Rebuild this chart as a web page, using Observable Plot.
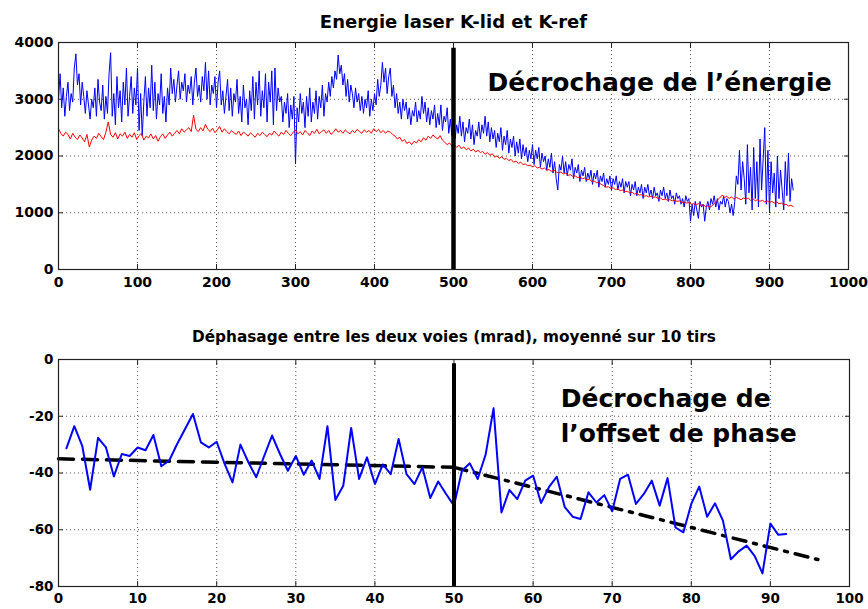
<!DOCTYPE html>
<html><head><meta charset="utf-8">
<script src="https://cdn.jsdelivr.net/npm/d3@7"></script>
<script src="https://cdn.jsdelivr.net/npm/@observablehq/plot@0.6"></script>
<style>
body{margin:0;background:#fff;}
#c{width:868px;height:609px;overflow:hidden;}
svg{display:block;}
</style>
</head><body><div id="c"></div>
<script>
// ---------- Top panel data ----------
const topTitle = "Energie laser K-lid et K-ref";
const topNote = "Décrochage de l’énergie";
const topXTicks = [0,100,200,300,400,500,600,700,800,900,1000];
const topYTicks = [0,1000,2000,3000,4000];
const klidStep = 2; // shot index spacing of K-lid samples
const klidValues = [
 3000,3450,2850,3200,2700,3050,3300,2800,3100,2950,
 3550,3800,3250,3450,2900,3300,3050,2750,3150,2900,
 2650,3000,2850,3200,2700,3350,2950,2800,3250,2650,
 3050,2750,3450,3820,2700,3100,2550,3400,2850,3150,
 2600,3300,2900,3550,2700,3050,3400,2750,3200,2900,
 3550,2450,3100,2350,2950,3400,2700,3200,2850,3600,
 2800,3300,2650,3100,2900,3450,2750,3050,2600,3200,
 2900,3550,3100,3350,2950,3250,3500,3000,3300,3150,
 3450,2950,3250,3100,3400,2900,3300,3550,3050,3250,
 2950,3400,3150,3650,3000,3500,2900,3250,3100,3400,
 2850,3300,3500,2900,3150,2750,3050,3350,2800,3200,
 2700,3100,2950,3350,2750,3050,2600,3250,2850,3000,
 2550,3150,2800,3400,2650,3300,2900,3500,2700,3150,
 2850,3450,2600,3300,2950,3500,2550,3550,2800,3200,
 2950,3050,2600,2950,2750,3100,2500,2900,2650,3050,
 1860,2850,2600,3100,2750,2950,2500,3050,2700,3200,
 2600,2950,2750,3150,2650,3050,2850,3250,2700,3100,
 2950,3300,3050,3400,3200,3500,3350,3780,3450,3600,
 3250,3450,3050,3350,2950,3250,3100,2850,3200,2950,
 3100,2800,3050,2750,3000,2850,3150,2700,3000,2800,
 3100,2900,3350,3050,3250,3650,3300,3550,3100,3400,
 3550,3050,3250,2850,3100,2750,2950,2650,3000,2800,
 2950,2650,2850,2550,2800,2700,2950,2600,2800,2650,
 3050,2750,2950,2600,2850,2550,2800,2650,2900,2500,
 2750,2550,2900,2450,2700,2600,2850,2400,2650,2350,
 2600,2300,2550,2400,2700,2350,2600,2250,2500,2400,
 2650,2300,2550,2200,2450,2350,2600,2300,2550,2400,
 2700,2350,2600,2250,2500,2300,2450,2150,2400,2250,
 2500,2100,2350,2200,2450,2050,2300,2150,2350,2000,
 2250,2050,2300,1950,2200,2000,2150,1900,2100,1950,
 2200,1850,2100,1950,2150,1800,2050,1900,2000,1750,
 1950,1800,2050,1700,1900,1600,1400,1850,1750,2000,
 1700,1900,1650,1850,1750,1950,1600,1800,1700,1850,
 1550,1750,1650,1800,1550,1700,1600,1750,1500,1700,
 1600,1750,1450,1650,1550,1700,1450,1600,1500,1650,
 1400,1600,1500,1650,1400,1550,1450,1600,1350,1550,
 1450,1550,1300,1500,1400,1550,1300,1450,1350,1500,
 1250,1450,1350,1500,1300,1400,1250,1450,1300,1350,
 1200,1400,1300,1450,1250,1350,1200,1400,1250,1300,
 1150,1350,1250,1300,1150,1250,1100,1300,1200,1250,
 850,1150,950,1200,1050,900,1200,1100,1150,850,
 1100,1200,1050,1250,1150,1300,1100,1250,1050,1200,
 1150,1300,1100,1250,1200,1000,1150,950,1200,1650,
 1500,2100,1400,1900,1600,1150,2200,1350,1800,1050,
 2150,1250,1900,1100,2300,1400,1950,2500,1150,2100,
 1000,1900,1350,1700,1100,2000,1250,1750,1400,1050,
 1900,1300,2050,1200,1600,1400
];
const krefStep = 3; // shot index spacing of K-ref samples
const krefValues = [
 2480,2400,2350,2420,2380,2300,2400,2330,2290,2370,
 2320,2250,2380,2160,2280,2350,2310,2400,2340,2290,
 2420,2600,2380,2330,2410,2300,2390,2350,2420,2310,
 2380,2330,2410,2290,2360,2400,2280,2350,2320,2390,
 2300,2360,2260,2340,2390,2310,2370,2420,2350,2400,
 2450,2390,2480,2420,2460,2500,2430,2720,2470,2430,
 2500,2440,2560,2470,2430,2490,2410,2460,2520,2420,
 2480,2430,2390,2450,2410,2380,2440,2360,2420,2390,
 2350,2410,2370,2330,2400,2360,2420,2380,2340,2400,
 2370,2440,2390,2350,2420,2380,2450,2400,2360,2420,
 2460,2390,2430,2370,2450,2410,2360,2440,2400,2470,
 2390,2430,2460,2400,2450,2380,2420,2480,2420,2450,
 2400,2460,2420,2390,2450,2410,2470,2430,2400,2460,
 2420,2450,2400,2480,2430,2470,2410,2450,2400,2440,
 2420,2380,2350,2300,2330,2260,2290,2220,2250,2200,
 2260,2230,2290,2250,2320,2280,2350,2310,2370,2330,
 2300,2360,2280,2240,2200,2230,2180,2200,2150,2190,
 2130,2160,2110,2140,2090,2120,2070,2100,2060,2080,
 2030,2060,2010,2040,1980,2000,1960,1990,1940,1960,
 1920,1940,1890,1910,1870,1890,1850,1860,1830,1840,
 1810,1830,1790,1800,1770,1790,1750,1760,1730,1750,
 1720,1700,1720,1680,1700,1660,1670,1640,1650,1620,
 1630,1600,1610,1580,1590,1550,1560,1530,1530,1500,
 1480,1450,1460,1430,1440,1410,1420,1390,1400,1370,
 1380,1350,1360,1330,1340,1310,1320,1290,1300,1280,
 1290,1270,1280,1250,1260,1230,1240,1220,1230,1210,
 1220,1200,1210,1180,1190,1170,1180,1150,1160,1140,
 1160,1130,1140,1110,1120,1100,1130,1180,1220,1260,
 1310,1270,1290,1250,1280,1240,1270,1250,1230,1260,
 1240,1260,1220,1250,1210,1230,1200,1220,1190,1210,
 1180,1200,1170,1190,1160,1170,1140,1150,1120,1130,
 1110
];
const topMarkerX = [500];
const topMarkerSpan = [0, 3900];
const topNotePos = [543, 3290];

// ---------- Bottom panel data ----------
const botTitle = "Déphasage entre les deux voies (mrad), moyenné sur 10 tirs";
const botNote = ["Décrochage de", "l’offset de phase"];
const botXTicks = [0,10,20,30,40,50,60,70,80,90,100];
const botYTicks = [-80,-60,-40,-20,0];
const phaseValues = [
 -31.3,-23.5,-30.4,-45.9,-27.6,-31.0,-41.2,-33.3,-34.0,-31.0,
 -32.0,-26.6,-37.6,-35.6,-29.8,-24.5,-19.2,-29.2,-31.0,-29.0,
 -36.8,-43.3,-30.0,-36.2,-41.5,-34.0,-26.8,-33.3,-39.2,-34.0,
 -40.6,-35.6,-42.1,-23.5,-49.5,-44.5,-24.1,-42.1,-34.5,-43.9,
 -37.0,-40.4,-28.0,-40.4,-43.9,-38.0,-48.8,-43.0,-47.4,-51.5,
 -39.2,-36.6,-42.1,-33.5,-17.2,-53.9,-46.0,-49.2,-42.7,-40.9,
 -50.6,-45.0,-41.3,-52.0,-55.4,-56.2,-46.8,-50.4,-47.8,-53.5,
 -42.1,-40.6,-50.9,-47.4,-42.7,-51.5,-41.8,-59.2,-60.9,-50.9,
 -44.8,-55.4,-50.7,-56.8,-70.4,-67.6,-65.6,-69.2,-75.4,-57.8,
 -61.8,-61.5
];
const trendBeforeX = [0, 50];
const trendBeforeY = [-35, -38];
const trendAfterX = [50, 96];
const trendAfterY = [-38, -70.5];
const botMarkerX = [50];
const botMarkerSpan = [-80, -1.5];
const botNoteX = 63.5;
const botNoteY = [-13.8, -26.3];

// ---------- build tables ----------
const klid = klidValues.map((v, i) => ({x: i * klidStep, y: v}));
const kref = krefValues.map((v, i) => ({x: i * krefStep, y: v}));
const phase = phaseValues.map((v, i) => ({x: i + 1, y: v}));
const trendBefore = trendBeforeX.map((x, i) => ({x, y: trendBeforeY[i]}));
const trendAfter = trendAfterX.map((x, i) => ({x, y: trendAfterY[i]}));

const FONT = "'DejaVu Sans', Arial, sans-serif";
const fmt = d => String(d);
const gridStyle = {stroke: "#555", strokeOpacity: 1, strokeWidth: 1, strokeDasharray: "1,3"};

function innerTicks(xt, yt) {
  return [
    Plot.axisX({ticks: xt, anchor: "bottom", tickSize: -5, fill: "none", label: null, stroke: "#222"}),
    Plot.axisX({ticks: xt, anchor: "top", tickSize: -5, fill: "none", label: null, stroke: "#222"}),
    Plot.axisY({ticks: yt, anchor: "left", tickSize: -5, fill: "none", label: null, stroke: "#222"}),
    Plot.axisY({ticks: yt, anchor: "right", tickSize: -5, fill: "none", label: null, stroke: "#222"})
  ];
}

const topPlot = Plot.plot({
  width: 868, height: 300,
  marginTop: 42, marginBottom: 31, marginLeft: 58, marginRight: 20,
  x: {domain: [0, 1000]},
  y: {domain: [0, 4000]},
  style: {fontFamily: FONT, fontWeight: "bold", fontSize: "14px", color: "black", background: "white", overflow: "visible"},
  marks: [
    Plot.gridX(topXTicks.slice(1, -1), gridStyle),
    Plot.gridY(topYTicks.slice(1, -1), gridStyle),
    ...innerTicks(topXTicks, topYTicks),
    Plot.axisX({ticks: topXTicks, tickFormat: fmt, tickSize: 0, tickPadding: 8, label: null}),
    Plot.axisY({ticks: topYTicks, tickFormat: fmt, tickSize: 0, tickPadding: 5, label: null}),
    Plot.line(klid, {x: "x", y: "y", stroke: "#0000ff", strokeWidth: 1}),
    Plot.line(kref, {x: "x", y: "y", stroke: "#ff0000", strokeWidth: 1}),
    Plot.ruleX(topMarkerX, {y1: topMarkerSpan[0], y2: topMarkerSpan[1], stroke: "black", strokeWidth: 4.5}),
    Plot.frame({stroke: "#222", strokeWidth: 1.2}),
    Plot.text([topTitle], {frameAnchor: "top", dy: -27, fontSize: 18, fontWeight: "bold", fill: "black"}),
    Plot.text([topNote], {x: () => topNotePos[0], y: () => topNotePos[1], textAnchor: "start", fontSize: 25, fontWeight: "bold", fill: "black"})
  ]
});

const botPlot = Plot.plot({
  width: 868, height: 309,
  marginTop: 59, marginBottom: 23, marginLeft: 58, marginRight: 19,
  x: {domain: [0, 100]},
  y: {domain: [-80, 0]},
  style: {fontFamily: FONT, fontWeight: "bold", fontSize: "13.5px", color: "black", background: "white", overflow: "visible"},
  marks: [
    Plot.gridX(botXTicks.slice(1, -1), gridStyle),
    Plot.gridY(botYTicks.slice(1, -1), gridStyle),
    ...innerTicks(botXTicks, botYTicks),
    Plot.axisX({ticks: botXTicks, tickFormat: fmt, tickSize: 0, tickPadding: 7, label: null}),
    Plot.axisY({ticks: botYTicks, tickFormat: fmt, tickSize: 0, tickPadding: 5, label: null}),
    Plot.line(trendBefore, {x: "x", y: "y", stroke: "black", strokeWidth: 3.5, strokeDasharray: "15,9"}),
    Plot.line(trendAfter, {x: "x", y: "y", stroke: "black", strokeWidth: 3.5, strokeDasharray: "13,8,3,8"}),
    Plot.line(phase, {x: "x", y: "y", stroke: "#0000ff", strokeWidth: 2}),
    Plot.ruleX(botMarkerX, {y1: botMarkerSpan[0], y2: botMarkerSpan[1], stroke: "black", strokeWidth: 4}),
    Plot.frame({stroke: "#222", strokeWidth: 1.2}),
    Plot.text([botTitle], {frameAnchor: "top", dy: -28, fontSize: 15.3, fontWeight: "bold", fill: "black"}),
    Plot.text(botNote, {x: () => botNoteX, y: (d, i) => botNoteY[i], textAnchor: "start", fontSize: 25, fontWeight: "bold", fill: "black"})
  ]
});

const c = document.getElementById("c");
c.appendChild(topPlot);
c.appendChild(botPlot);
</script>
</body></html>
